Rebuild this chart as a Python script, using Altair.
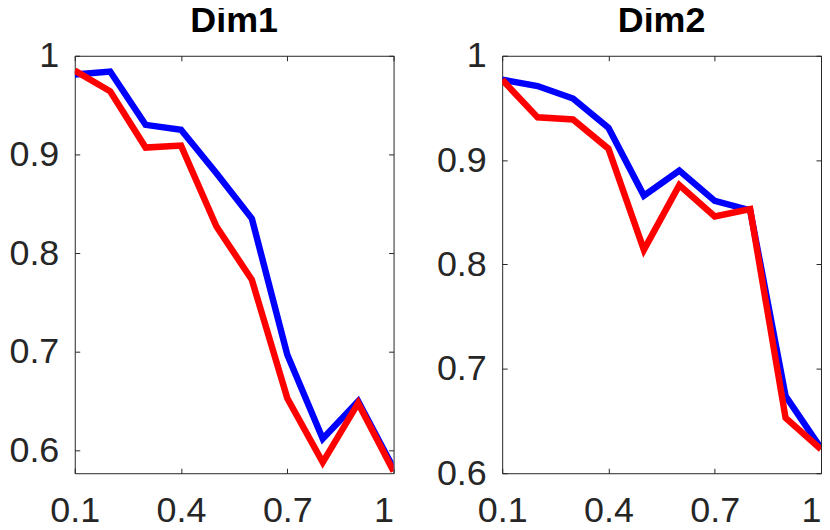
import altair as alt
import pandas as pd

# ---- data ----
X_VALUES = [0.1, 0.2, 0.3, 0.4, 0.5, 0.6, 0.7, 0.8, 0.9, 1.0]
DIM1_BLUE = [0.981, 0.984, 0.930, 0.925, 0.881, 0.835, 0.697, 0.612, 0.650, 0.582]
DIM1_RED = [0.985, 0.964, 0.907, 0.909, 0.827, 0.773, 0.653, 0.588, 0.648, 0.579]
DIM2_BLUE = [0.977, 0.971, 0.959, 0.931, 0.866, 0.890, 0.861, 0.852, 0.674, 0.624]
DIM2_RED = [0.977, 0.941, 0.939, 0.911, 0.814, 0.876, 0.846, 0.853, 0.653, 0.623]
X_TICKS = [0.1, 0.4, 0.7, 1.0]
Y_TICKS = [0.6, 0.7, 0.8, 0.9, 1.0]
TITLES = ["Dim1", "Dim2"]
Y_DOMAINS = [[0.577, 1.0], [0.6, 1.0]]

FONT = "Liberation Sans"
AX = "#262626"
W, H = 320, 419
FS = 36


def panel(title, blue, red, ydom):
    df = pd.DataFrame({"x": X_VALUES, "blue": blue, "red": red})
    xs = alt.Scale(domain=[0.1, 1.0], nice=False, zero=False)
    ys = alt.Scale(domain=ydom, nice=False, zero=False)
    bottom = alt.Axis(orient="bottom", values=X_TICKS, format=".1~f", offset=-5,
                      tickSize=5, labelPadding=20, labelFlush=False,
                      labelAlign={"condition": {"test": "datum.value >= 0.99", "value": "right"},
                                  "value": "center"})
    top = alt.Axis(orient="top", values=X_TICKS, labels=False, offset=-5, tickSize=5)
    left = alt.Axis(orient="left", values=Y_TICKS, format=".1~f", offset=-5,
                    tickSize=5, labelPadding=16, labelFlush=False)
    right = alt.Axis(orient="right", values=Y_TICKS, labels=False, offset=-5, tickSize=5)
    base = alt.Chart(df)
    b = base.mark_line(color="#0000ff", strokeWidth=6.5, clip=True).encode(
        x=alt.X("x:Q", scale=xs, axis=bottom, title=None),
        y=alt.Y("blue:Q", scale=ys, axis=left, title=None),
    )
    r = base.mark_line(color="#ff0000", strokeWidth=6.5, clip=True).encode(
        x=alt.X("x:Q", scale=xs, axis=top, title=None),
        y=alt.Y("red:Q", scale=ys, axis=right, title=None),
    )
    return (
        alt.layer(b, r)
        .resolve_axis(x="independent", y="independent")
        .properties(
            width=W,
            height=H,
            title=alt.TitleParams(title, fontSize=FS, font=FONT, fontWeight="bold",
                                  color="#000000", anchor="middle", frame="group", offset=-2),
        )
    )


chart = (
    alt.hconcat(
        panel(TITLES[0], DIM1_BLUE, DIM1_RED, Y_DOMAINS[0]),
        panel(TITLES[1], DIM2_BLUE, DIM2_RED, Y_DOMAINS[1]),
        spacing=41,
    )
    .properties(padding={"left": 0, "top": -7, "right": 0, "bottom": -7})
    .configure_view(stroke=AX, strokeWidth=1)
    .configure_axis(grid=False, domain=False, labelFont=FONT, labelFontSize=FS,
                    labelColor=AX, tickColor=AX, tickWidth=1)
)

chart.save("out.html", embed_options={"renderer": "svg", "actions": False})
